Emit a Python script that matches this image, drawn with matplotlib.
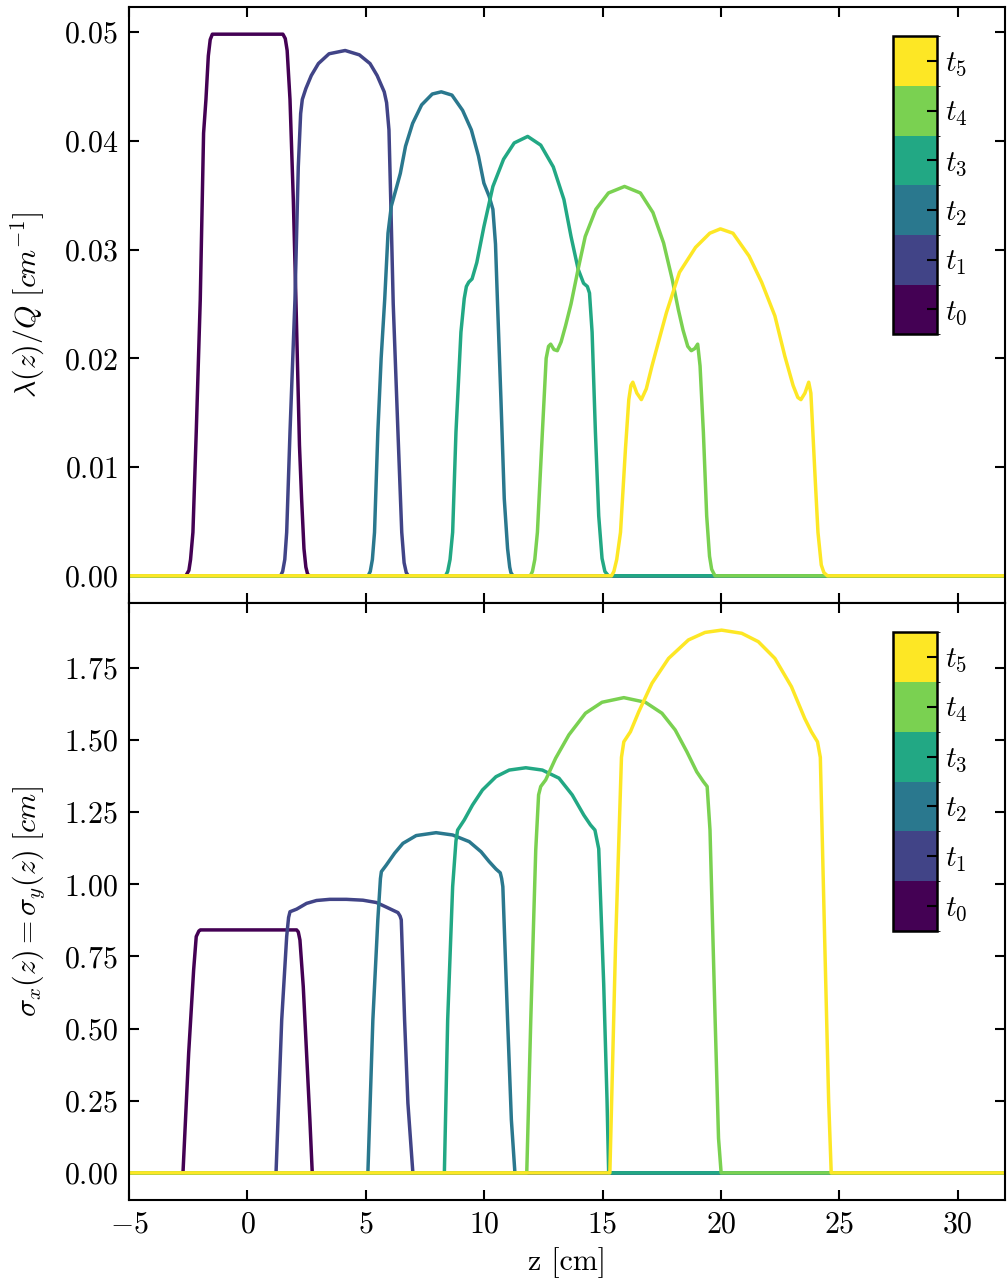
import numpy as np
import matplotlib
matplotlib.use("Agg")
import matplotlib.pyplot as plt
from matplotlib.colors import ListedColormap, BoundaryNorm
from matplotlib.cm import ScalarMappable

plt.rcParams['mathtext.fontset'] = 'cm'
plt.rcParams['font.family'] = 'serif'
plt.rcParams['font.serif'] = ['cmr10', 'DejaVu Serif']
plt.rcParams['axes.formatter.use_mathtext'] = True
plt.rcParams['axes.unicode_minus'] = True

# ---------------- data: line density lambda(z)/Q ----------------
lam_z0 = [-2.60, -2.47, -2.40, -2.30, -2.16, -1.99, -1.85, -1.75, -1.65, -1.57, -1.48,
          1.50, 1.60, 1.68, 1.80, 1.94, 2.05, 2.20, 2.29, 2.39, 2.47, 2.55, 2.65]
lam_v0 = [0, 0.0005, 0.0015, 0.004, 0.0132, 0.0254, 0.0407, 0.0438, 0.0478, 0.0493, 0.0498,
          0.0498, 0.0494, 0.0483, 0.0438, 0.0346, 0.0254, 0.0120, 0.0071, 0.0025, 0.0008, 0.0001, 0]

lam_z1 = [1.40, 1.49, 1.58, 1.66, 1.80, 2.01, 2.15, 2.25, 2.32, 2.47, 2.70, 3.00, 3.45, 4.13,
          4.73, 5.18, 5.48, 5.78, 5.88, 5.98, 6.05, 6.16, 6.36, 6.52, 6.62, 6.71, 6.80]
lam_v1 = [0, 0.0004, 0.0015, 0.004, 0.0132, 0.0254, 0.0376, 0.0425, 0.0438, 0.0448, 0.0460,
          0.0471, 0.0480, 0.0483, 0.0479, 0.0471, 0.0460, 0.0445, 0.0435, 0.0410, 0.0350,
          0.0250, 0.0132, 0.004, 0.0012, 0.0003, 0]

lam_z2 = [5.10, 5.19, 5.28, 5.37, 5.51, 5.65, 5.80, 5.94, 6.08, 6.31, 6.46, 6.68, 6.98, 7.36,
          7.81, 8.19, 8.64, 9.09, 9.46, 9.76, 9.99, 10.21, 10.37, 10.48, 10.56, 10.71, 10.85,
          10.99, 11.08, 11.13, 11.22]
lam_v2 = [0, 0.0004, 0.0015, 0.004, 0.0132, 0.0200, 0.0254, 0.0315, 0.0340, 0.0358, 0.0370,
          0.0395, 0.0416, 0.0433, 0.0443, 0.0445, 0.0442, 0.0428, 0.0410, 0.0386, 0.0361,
          0.0349, 0.0337, 0.0305, 0.0254, 0.0162, 0.0071, 0.0025, 0.0008, 0.0003, 0]

lam_z3 = [8.37, 8.46, 8.56, 8.67, 8.81, 9.02, 9.16, 9.25, 9.35, 9.49, 9.69, 9.99, 10.37, 10.82,
          11.27, 11.84, 12.39, 12.92, 13.37, 13.67, 13.97, 14.20, 14.36, 14.45, 14.56, 14.70,
          14.84, 14.98, 15.10, 15.25]
lam_v3 = [0, 0.0004, 0.0015, 0.004, 0.0132, 0.0224, 0.0255, 0.0266, 0.0270, 0.0273, 0.0288,
          0.0321, 0.0358, 0.0383, 0.0398, 0.0404, 0.0396, 0.0376, 0.0346, 0.0312, 0.0282,
          0.0269, 0.0266, 0.0260, 0.0224, 0.0132, 0.0055, 0.0016, 0.0004, 0]

lam_z4 = [11.95, 12.04, 12.14, 12.25, 12.46, 12.62, 12.72, 12.81, 12.95, 13.09, 13.25, 13.44,
          13.67, 13.97, 14.27, 14.72, 15.25, 15.93, 16.60, 17.13, 17.58, 17.95, 18.20, 18.40,
          18.60, 18.75, 18.90, 19.02, 19.12, 19.26, 19.40, 19.52, 19.61, 19.75]
lam_v4 = [0, 0.0004, 0.0015, 0.004, 0.0132, 0.0200, 0.0211, 0.0213, 0.0208, 0.0207, 0.0215,
          0.0230, 0.0250, 0.0282, 0.0312, 0.0337, 0.0352, 0.0358, 0.0352, 0.0334, 0.0306,
          0.0272, 0.0245, 0.0226, 0.0211, 0.0207, 0.0209, 0.0213, 0.0193, 0.0132, 0.0055,
          0.0018, 0.0006, 0]

lam_z5 = [15.38, 15.48, 15.60, 15.76, 15.97, 16.11, 16.20, 16.28, 16.45, 16.64, 16.85, 17.09,
          17.40, 17.70, 18.25, 18.93, 19.53, 19.98, 20.51, 21.19, 21.72, 22.28, 22.70, 23.05,
          23.25, 23.38, 23.55, 23.71, 23.80, 23.85, 23.99, 24.10, 24.24, 24.35, 24.50]
lam_v5 = [0, 0.0004, 0.0015, 0.004, 0.0117, 0.0162, 0.0175, 0.0178, 0.0168, 0.0162, 0.0172,
          0.0193, 0.0218, 0.0242, 0.0279, 0.0302, 0.0315, 0.0319, 0.0315, 0.0294, 0.0270,
          0.0239, 0.0202, 0.0175, 0.0164, 0.0162, 0.0168, 0.0178, 0.0168, 0.0147, 0.0086,
          0.004, 0.001, 0.0003, 0]

# ---------------- data: beam size sigma_x(z) = sigma_y(z) ----------------
sig_z0 = [-2.72, -2.48, -2.27, -2.16, -2.05, -1.99, 2.08, 2.15, 2.22, 2.36, 2.50, 2.64, 2.74]
sig_v0 = [0, 0.415, 0.703, 0.819, 0.838, 0.842, 0.842, 0.835, 0.807, 0.646, 0.415, 0.184, 0]

sig_z1 = [1.21, 1.45, 1.66, 1.74, 1.80, 2.08, 2.50, 2.92, 3.48, 4.18, 4.88, 5.45, 5.87, 6.36,
          6.45, 6.50, 6.64, 6.78, 6.99]
sig_v1 = [0, 0.530, 0.819, 0.885, 0.905, 0.914, 0.934, 0.944, 0.948, 0.948, 0.945, 0.937,
          0.921, 0.902, 0.890, 0.877, 0.530, 0.242, 0]

sig_z2 = [5.09, 5.30, 5.51, 5.62, 5.66, 5.87, 6.22, 6.57, 7.13, 7.97, 8.67, 9.37, 9.87, 10.21,
          10.50, 10.68, 10.74, 10.79, 10.99, 11.15, 11.30]
sig_v2 = [0, 0.53, 0.877, 1.020, 1.044, 1.067, 1.108, 1.142, 1.169, 1.179, 1.171, 1.148,
          1.113, 1.079, 1.053, 1.040, 1.020, 0.992, 0.53, 0.184, 0]

sig_z3 = [8.32, 8.46, 8.67, 8.81, 8.88, 9.16, 9.51, 9.93, 10.50, 11.06, 11.76, 12.46, 13.16,
          13.72, 14.21, 14.49, 14.68, 14.84, 15.05, 15.19, 15.26]
sig_v3 = [0, 0.53, 0.992, 1.150, 1.188, 1.223, 1.275, 1.327, 1.373, 1.396, 1.404, 1.396,
          1.368, 1.310, 1.240, 1.206, 1.188, 1.123, 0.655, 0.254, 0]

sig_z4 = [11.80, 11.97, 12.10, 12.18, 12.30, 12.39, 12.60, 13.02, 13.58, 14.28, 14.98, 15.90,
          16.81, 17.51, 18.07, 18.56, 18.98, 19.26, 19.42, 19.54, 19.76, 19.90, 20.01]
sig_v4 = [0, 0.53, 0.90, 1.119, 1.310, 1.339, 1.362, 1.437, 1.518, 1.593, 1.631, 1.647,
          1.631, 1.593, 1.535, 1.460, 1.390, 1.356, 1.339, 1.188, 0.521, 0.12, 0]

sig_z5 = [15.31, 15.55, 15.80, 15.90, 16.18, 16.53, 17.09, 17.79, 18.63, 19.33, 20.03, 20.88,
          21.58, 22.28, 22.98, 23.54, 23.82, 24.08, 24.20, 24.39, 24.55, 24.66]
sig_v5 = [0, 0.788, 1.440, 1.494, 1.529, 1.598, 1.697, 1.783, 1.847, 1.873, 1.881, 1.870,
          1.841, 1.783, 1.685, 1.575, 1.529, 1.494, 1.440, 0.788, 0.254, 0]

z_range = [-5.0, 32.0]
time_labels = [r'$t_0$', r'$t_1$', r'$t_2$', r'$t_3$', r'$t_4$', r'$t_5$']
lam_ticks = [0.00, 0.01, 0.02, 0.03, 0.04, 0.05]
sig_ticks = [0.00, 0.25, 0.50, 0.75, 1.00, 1.25, 1.50, 1.75]
x_ticks = [-5, 0, 5, 10, 15, 20, 25, 30]

lam_z = [lam_z0, lam_z1, lam_z2, lam_z3, lam_z4, lam_z5]
lam_v = [lam_v0, lam_v1, lam_v2, lam_v3, lam_v4, lam_v5]
sig_z = [sig_z0, sig_z1, sig_z2, sig_z3, sig_z4, sig_z5]
sig_v = [sig_v0, sig_v1, sig_v2, sig_v3, sig_v4, sig_v5]

colors = plt.cm.viridis(np.linspace(0, 1, len(time_labels)))

W, H = 1007, 1285
fig = plt.figure(figsize=(W / 100, H / 100), dpi=100)
L, R = 129 / W, 1005 / W
ax1 = fig.add_axes([L, 1 - 603 / H, R - L, (603 - 7) / H])
ax2 = fig.add_axes([L, 1 - 1200 / H, R - L, (1200 - 603) / H], sharex=ax1)


def full(zs, vs):
    return [z_range[0] - 1] + list(zs) + [z_range[1] + 1], [0] + list(vs) + [0]


FS = 21.5
for ax, zz, vv in [(ax1, lam_z, lam_v), (ax2, sig_z, sig_v)]:
    for i in range(len(time_labels)):
        x, y = full(zz[i], vv[i])
        ax.plot(x, y, color=colors[i], lw=2.5, solid_joinstyle='round')
    ax.tick_params(direction='in', which='both', top=True, right=True,
                   length=7, width=1.5, labelsize=FS, pad=8)
    for s in ax.spines.values():
        s.set_linewidth(1.5)

ax1.set_xlim(z_range)
ax1.set_xticks(x_ticks)
ax1.set_ylim(-0.0025, 0.0523)
ax1.set_yticks(lam_ticks)
ax1.set_yticklabels([r'$\mathdefault{%.2f}$' % t for t in lam_ticks])
ax1.tick_params(labelbottom=False)
ax2.set_ylim(-0.094, 1.975)
ax2.set_yticks(sig_ticks)
ax2.set_yticklabels([r'$\mathdefault{%.2f}$' % t for t in sig_ticks])
ax2.set_xticklabels([r'$\mathdefault{%d}$' % t if t >= 0 else r'$\mathdefault{-%d}$' % -t for t in x_ticks])

ax1.set_ylabel(r'$\lambda(z)/Q\ [cm^{-1}]$', fontsize=FS, labelpad=12)
ax2.set_ylabel(r'$\sigma_x(z) = \sigma_y(z)\ [cm]$', fontsize=FS, labelpad=12)
ax2.set_xlabel('z [cm]', fontsize=FS, labelpad=6)

cmap = ListedColormap(colors)
norm = BoundaryNorm(np.arange(len(time_labels) + 1), cmap.N)
for ax in (ax1, ax2):
    cax = ax.inset_axes([0.872, 0.451, 0.050, 0.500])
    cb = fig.colorbar(ScalarMappable(norm=norm, cmap=cmap), cax=cax,
                      ticks=np.arange(len(time_labels)) + 0.5)
    cb.set_ticklabels(time_labels)
    cb.outline.set_linewidth(1.8)
    cax.tick_params(direction='in', length=7, width=1.5, labelsize=FS, pad=6)

fig.savefig('out.png', dpi=100)
